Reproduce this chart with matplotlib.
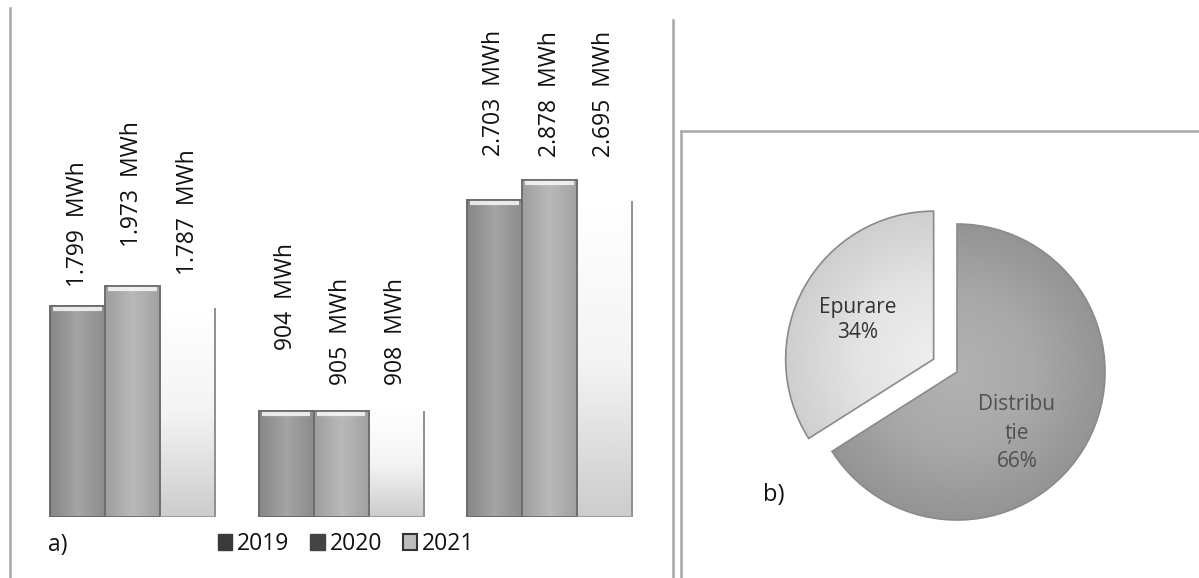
import numpy as np
import matplotlib
matplotlib.use("Agg")
import matplotlib.pyplot as plt
from matplotlib.colors import LinearSegmentedColormap
from matplotlib.patches import Patch
from matplotlib.lines import Line2D

# ---------------- data ----------------
categories = ["Distribuție", "Epurare", "Total"]
years = ["2019", "2020", "2021"]
values_2019 = [1799, 904, 2703]
values_2020 = [1973, 905, 2878]
values_2021 = [1787, 908, 2695]
pie_labels = ["Distribu\nție", "Epurare"]
pie_values = [66, 34]

# label offsets above bar tops (pixels), per series
label_gap_2019 = [19, 61, 44]
label_gap_2020 = [39, 26, 23]
label_gap_2021 = [33, 26, 44]

plt.rcParams["font.family"] = ["Open Sans", "DejaVu Sans"]

W, H = 1199, 578
fig = plt.figure(figsize=(W / 100, H / 100), dpi=100)
fig.patch.set_facecolor("white")


def px_rect(x0, y0, x1, y1):
    return [x0 / W, 1 - y1 / H, (x1 - x0) / W, (y1 - y0) / H]


# ---------------- bar chart ----------------
ax = fig.add_axes(px_rect(10, 10, 673, 517))
units_per_px = 2878 / 337.0
ax.set_ylim(0, 507 * units_per_px)
xl = (-122.5 / 208.5, 540.5 / 208.5)
ax.set_xlim(*xl)
for s in ax.spines.values():
    s.set_visible(False)
ax.set_xticks([])
ax.set_yticks([])

x = np.arange(len(categories))
w = 55 / 208.5
series = [values_2019, values_2020, values_2021]
gaps = [label_gap_2019, label_gap_2020, label_gap_2021]
grad_colors = [
    (["#878787", "#a4a4a4", "#8c8c8c"], "h"),
    (["#9e9e9e", "#b9b9b9", "#a2a2a2"], "h"),
    (["#cdcdcd", "#f4f4f4", "#ffffff"], "v"),
]
edge_cols = ["#6a6a6a", "#6e6e6e", "none"]


def fill_gradient(axis, patch, colors, direction):
    px, py = patch.get_x(), patch.get_y()
    pw, ph = patch.get_width(), patch.get_height()
    cmap = LinearSegmentedColormap.from_list("g", colors)
    if direction == "h":
        grad = np.linspace(0, 1, 64)[None, :]
    else:
        grad = np.linspace(0, 1, 64)[:, None]
    im = axis.imshow(grad, extent=[px, px + pw, py, py + ph], origin="lower",
                     aspect="auto", cmap=cmap, zorder=1.5, interpolation="bilinear")
    im.set_clip_path(patch)


for i, (vals, gp) in enumerate(zip(series, gaps)):
    bars = ax.bar(x + (i - 1) * w, vals, width=w, facecolor="none",
                  edgecolor=edge_cols[i], linewidth=1.4, zorder=2)
    for b, v, g in zip(bars, vals, gp):
        fill_gradient(ax, b, *grad_colors[i])
        bx, bw, bh = b.get_x(), b.get_width(), b.get_height()
        if i < 2:
            ax.hlines(bh - 3 * units_per_px, bx + bw * 0.06, bx + bw * 0.94,
                      color="white", lw=3, alpha=0.8, zorder=2.5)
        else:
            ax.vlines(bx + bw, 0, bh, color="#8f8f8f", lw=1.4, zorder=2.5)
            ax.hlines(0, bx, bx + bw, color="#9a9a9a", lw=1.4, zorder=2.5)
        txt = f"{v:,}".replace(",", ".") + "  MWh"
        ax.annotate(txt, xy=(bx + bw / 2, bh), xytext=(0, g),
                    textcoords="offset pixels", rotation=90, ha="center",
                    va="bottom", fontsize=16.5, color="#111111",
                    fontweight="medium")
ax.set_xlim(*xl)
ax.set_ylim(0, 507 * units_per_px)

handles = [Patch(facecolor="#3a3a3a", edgecolor="#3a3a3a"),
           Patch(facecolor="#444444", edgecolor="#444444"),
           Patch(facecolor="#bdbdbd", edgecolor="#333333", linewidth=1.5)]
fig.legend(handles, years, loc="center", bbox_to_anchor=(346 / W, 1 - 544 / H),
           ncol=3, frameon=False, fontsize=16.5, handlelength=0.65,
           handleheight=0.65, handletextpad=0.2, columnspacing=0.9,
           borderpad=0, labelcolor="#111111")
fig.text(48 / W, 1 - 545 / H, "a)", fontsize=16.5, ha="left", va="center",
         color="#111111")

# ---------------- pie chart ----------------
cx, cy, R = 957, 372, 148
ax2 = fig.add_axes(px_rect(cx - 200, cy - 200, cx + 200, cy + 200))
lim = 200 / R
wedges, _ = ax2.pie(pie_values, startangle=90, counterclock=False,
                    explode=[0, 0.18], radius=1,
                    colors=["none", "none"],
                    wedgeprops=dict(edgecolor="#8a8a8a", linewidth=1.2))
pie_grads = [["#b2b2b2", "#a9a9a9", "#949494"], ["#efefef", "#e4e4e4", "#cfcfcf"]]
yy, xx = np.mgrid[-1.3:1.3:300j, -1.3:1.3:300j]
for wdg, cols in zip(wedges, pie_grads):
    c = wdg.center
    rr = np.clip(np.hypot(xx, yy), 0, 1)
    im = ax2.imshow(rr, extent=[c[0] - 1.3, c[0] + 1.3, c[1] - 1.3, c[1] + 1.3],
                    origin="lower", cmap=LinearSegmentedColormap.from_list("p", cols),
                    vmin=0, vmax=1, zorder=0.5, interpolation="bilinear")
    im.set_clip_path(wdg)
    wdg.set_zorder(1)
ax2.set_xlim(-lim, lim)
ax2.set_ylim(-lim, lim)
ax2.set_aspect("equal")
ax2.axis("off")

ax2.text((858 - cx) / R, (cy - 320) / R, f"{pie_labels[1]}\n{pie_values[1]}%",
         ha="center", va="center", fontsize=15, color="#333333", linespacing=1.3,
         fontweight="medium")
ax2.text((1017 - cx) / R, (cy - 433) / R, f"{pie_labels[0]}\n{pie_values[0]}%",
         ha="center", va="center", fontsize=15, color="#505050", linespacing=1.45)
fig.text(763 / W, 1 - 495 / H, "b)", fontsize=17, ha="left", va="center",
         color="#111111")

# ---------------- frame lines ----------------
line_kw = dict(color="#a8a8a8", linewidth=1.8, transform=fig.transFigure)
fig.add_artist(Line2D([10 / W, 10 / W], [1 - 8 / H, 0], **line_kw))
fig.add_artist(Line2D([673 / W, 673 / W], [1 - 20 / H, 0], **line_kw))
fig.add_artist(Line2D([681 / W, 681 / W], [1 - 131 / H, 0], **line_kw))
fig.add_artist(Line2D([681 / W, 1], [1 - 131 / H, 1 - 131 / H], **line_kw))

fig.savefig("out.png", dpi=100, facecolor="white")
